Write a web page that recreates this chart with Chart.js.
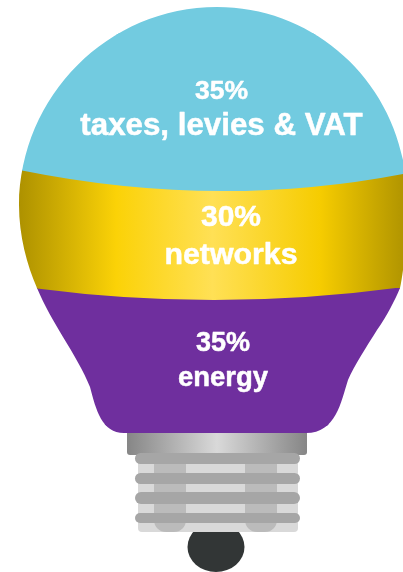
<!DOCTYPE html>
<html>
<head>
<meta charset="utf-8">
<style>html,body{margin:0;padding:0;background:#fff;overflow:hidden}canvas{display:block}</style>
<script src="https://cdn.jsdelivr.net/npm/chart.js@4"></script>
</head>
<body>
<canvas id="c" width="403" height="572"></canvas>
<script>
const categories = ["energy", "networks", "taxes, levies & VAT"];
const values = [35, 30, 35];
const colours = ["#6f2f9e", "gold", "#72cbe0"];

// lower edge of each band: where it meets the outline, and how far it sags at the middle
const edges = { 1: { x0: 37, x1: 400, dy1: -1, sag: 11.5 }, 2: { x0: 22, x1: 405, dy1: 3, sag: 20.5 } };

function bulbPath(ctx) {
  ctx.beginPath();
  ctx.moveTo(217, 7);
  ctx.bezierCurveTo(322, 7, 407, 92, 407, 200);
  ctx.bezierCurveTo(407, 235, 404, 270, 400, 288);
  ctx.bezierCurveTo(395, 300, 387, 316, 377, 330);
  ctx.bezierCurveTo(367, 346, 354, 366, 348, 380);
  ctx.bezierCurveTo(341, 402, 336, 433, 306, 433);
  ctx.lineTo(124, 433);
  ctx.bezierCurveTo(102, 433, 96, 410, 90, 387);
  ctx.bezierCurveTo(84, 372, 73, 353, 63, 337);
  ctx.bezierCurveTo(53, 320, 45, 307, 37, 288);
  ctx.bezierCurveTo(27, 265, 19, 236, 19, 205);
  ctx.bezierCurveTo(20, 96, 108, 7, 217, 7);
  ctx.closePath();
}
function goldGradient(ctx) {
  const g = ctx.createLinearGradient(20, 0, 405, 0);
  g.addColorStop(0, "#ae9200");
  g.addColorStop(0.25, "#fbd207");
  g.addColorStop(0.5, "#ffe055");
  g.addColorStop(0.78, "#f6cc00");
  g.addColorStop(1, "#b09400");
  return g;
}
function paint(ctx, i) { return colours[i] === "gold" ? goldGradient(ctx) : colours[i]; }
function roundBar(ctx, x, y, w, h, r) { ctx.beginPath(); ctx.roundRect(x, y, w, h, r); ctx.fill(); }

const bulbPlugin = {
  id: "bulb",
  beforeDatasetsDraw(chart) {
    const ctx = chart.ctx, a = chart.chartArea;
    ctx.save();
    bulbPath(ctx);
    ctx.clip();
    // the dome and the neck run past the ends of the stacked bar
    ctx.fillStyle = colours[2];
    ctx.fillRect(0, 0, chart.width, a.top + 2);
    ctx.fillStyle = colours[0];
    ctx.fillRect(0, a.bottom - 2, chart.width, chart.height - a.bottom + 2);
  },
  afterDatasetsDraw(chart) {
    const ctx = chart.ctx;
    // curved lower edge of each band, anchored at the bar's base
    [1, 2].forEach(i => {
      const base = chart.getDatasetMeta(i).data[0].base, e = edges[i];
      const y1 = base + e.dy1, cy = 2 * (base + e.sag) - (base + y1) / 2;
      ctx.beginPath();
      ctx.moveTo(0, base - 1);
      ctx.lineTo(0, base);
      ctx.lineTo(e.x0, base);
      ctx.quadraticCurveTo(217, cy, e.x1, y1);
      ctx.lineTo(chart.width, y1);
      ctx.lineTo(chart.width, base - 1);
      ctx.closePath();
      ctx.fillStyle = paint(ctx, i);
      ctx.fill();
    });
    ctx.restore();

    // lamp cap
    const collar = ctx.createLinearGradient(127, 0, 307, 0);
    collar.addColorStop(0, "#868686");
    collar.addColorStop(0.5, "#d9d9d9");
    collar.addColorStop(1, "#868686");
    ctx.fillStyle = collar;
    ctx.beginPath();
    ctx.roundRect(127, 433, 180, 22, [0, 0, 3, 3]);
    ctx.fill();
    ctx.fillStyle = "#323636";
    ctx.beginPath();
    ctx.ellipse(216, 547, 28.5, 25, 0, 0, Math.PI * 2);
    ctx.fill();
    ctx.fillStyle = "#d9d9d9";
    roundBar(ctx, 138, 455, 160, 77, [0, 0, 4, 4]);
    ctx.fillStyle = "#bbbbbb";
    roundBar(ctx, 154, 455, 32, 77, [0, 0, 12, 12]);
    roundBar(ctx, 245, 455, 32, 77, [0, 0, 12, 12]);
    ctx.fillStyle = "#a6a6a6";
    [[453, 11], [473, 11], [492, 12], [513, 10]].forEach(([y, h]) => roundBar(ctx, 135, y, 165, h, h / 2));

    // labels
    const lines = [
      { i: 2, cx: 221.5, y1: 99, s1: 26.5, y2: 135, s2: 31.3 },
      { i: 1, cx: 231, y1: 226, s1: 30, y2: 264, s2: 30.3 },
      { i: 0, cx: 223, y1: 351, s1: 27, y2: 386, s2: 27.5 }
    ];
    ctx.fillStyle = "#fff";
    ctx.strokeStyle = "#fff";
    ctx.lineWidth = 0.5;
    ctx.lineJoin = "round";
    ctx.textAlign = "center";
    ctx.textBaseline = "alphabetic";
    lines.forEach(l => {
      ctx.font = "bold " + l.s1 + "px 'Liberation Sans', Arial, sans-serif";
      ctx.fillText(values[l.i] + "%", l.cx, l.y1);
      ctx.strokeText(values[l.i] + "%", l.cx, l.y1);
      ctx.font = "bold " + l.s2 + "px 'Liberation Sans', Arial, sans-serif";
      ctx.fillText(categories[l.i], l.cx, l.y2);
      ctx.strokeText(categories[l.i], l.cx, l.y2);
    });
  }
};

const canvas = document.getElementById("c");
new Chart(canvas, {
  type: "bar",
  data: {
    labels: ["price"],
    datasets: categories.map((name, i) => ({
      label: name,
      data: [values[i]],
      backgroundColor: c => paint(c.chart.ctx, i),
      borderWidth: 0,
      barPercentage: 1,
      categoryPercentage: 1
    }))
  },
  options: {
    responsive: false,
    animation: false,
    events: [],
    layout: { padding: { top: 33, bottom: 146, left: 0, right: 0 } },
    plugins: { legend: { display: false }, tooltip: { enabled: false }, title: { display: false } },
    scales: {
      x: { display: false, stacked: true },
      y: { display: false, stacked: true, min: 0, max: 100 }
    }
  },
  plugins: [bulbPlugin]
});
</script>
</body>
</html>
